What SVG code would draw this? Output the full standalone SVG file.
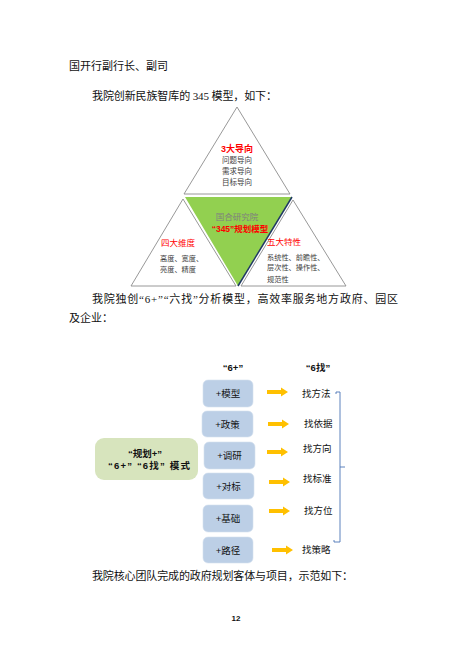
<svg xmlns="http://www.w3.org/2000/svg" width="474" height="668" viewBox="0 0 474 668">
<defs>
<style>
.body{font-family:"Liberation Serif","Noto Sans CJK SC",serif;font-size:11px;fill:#111}
.sm{font-family:"Liberation Sans","Noto Sans CJK SC",sans-serif;fill:#404040}
.red{font-family:"Liberation Sans","Noto Sans CJK SC",sans-serif;fill:#FF0000;font-weight:bold}
.lbl{font-family:"Liberation Sans","Noto Sans CJK SC",sans-serif;font-size:9.5px;fill:#111}
.b{font-weight:bold}
.tri{fill:#fff;stroke:#8C8C8C;stroke-width:0.9}
.box{fill:#BCCFE6;stroke:#D5E0EE;stroke-width:0.6}
.arr{fill:#FFC000}
</style>
<path id="arrow" d="M0,-2 L14,-2 L14,-4.5 L21,0 L14,4.5 L14,2 L0,2 Z"/>
</defs>
<rect width="474" height="668" fill="#fff"/>

<text class="body" x="69" y="70">国开行副行长、副司</text>
<text class="body" x="92" y="100" textLength="185" lengthAdjust="spacing">我院创新民族智库的 345 模型，如下：</text>

<g id="model345">
<g id="top-tri">
<polygon class="tri" points="237,107 184,194 290,194"/>
<text class="red" x="237" y="151.5" font-size="9" text-anchor="middle">3大导向</text>
<text class="sm" x="237" y="162.5" font-size="7.5" text-anchor="middle">问题导向</text>
<text class="sm" x="237" y="173.5" font-size="7.5" text-anchor="middle">需求导向</text>
<text class="sm" x="237" y="184.5" font-size="7.5" text-anchor="middle">目标导向</text>
</g>
<g id="center-tri">
<polygon points="185,197 292,197 238,286" fill="#92D050"/>
<line x1="292" y1="197" x2="238" y2="286" stroke="#1F3864" stroke-width="1.5"/>
<text x="237" y="220" font-size="8.5" text-anchor="middle" font-family="Liberation Sans,Noto Sans CJK SC,sans-serif" fill="#7F7F7F">国合研究院</text>
<text class="red" x="240" y="231.5" font-size="8.5" text-anchor="middle">“345”规划模型</text>
</g>
<g id="left-tri">
<polygon class="tri" points="183,199 131,286 236,286"/>
<text class="red" x="161" y="246" font-size="8.5" style="font-weight:normal">四大维度</text>
<text class="sm" x="160" y="261" font-size="7.2">高度、宽度、</text>
<text class="sm" x="160" y="271.5" font-size="7.2">亮度、精度</text>
</g>
<g id="right-tri">
<polygon class="tri" points="293,200 241,286 346,286"/>
<text class="red" x="267" y="245" font-size="8.5" style="font-weight:normal">五大特性</text>
<text class="sm" x="267" y="259.5" font-size="7.2">系统性、前瞻性、</text>
<text class="sm" x="267" y="270" font-size="7.2">层次性、操作性、</text>
<text class="sm" x="267" y="281.5" font-size="7.2">规范性</text>
</g>
</g>

<text class="body" x="92" y="303" textLength="306" lengthAdjust="spacing">我院独创“6+”“六找”分析模型，高效率服务地方政府、园区</text>
<text class="body" x="69" y="322">及企业：</text>

<g id="six">
<text class="lbl b" x="233" y="370.5" text-anchor="middle">“6+”</text>
<text class="lbl b" x="318" y="370.5" text-anchor="middle">“6找”</text>

<g id="main">
<rect x="95" y="438" width="103" height="42" rx="9" fill="#D7E4BD"/>
<text class="lbl b" x="145" y="457" text-anchor="middle">“规划+”</text>
<text class="lbl b" x="108" y="469" textLength="82" lengthAdjust="spacing">“6+”  “6找” 模式</text>
</g>

<g id="b1"><rect class="box" x="203" y="380" width="50" height="27" rx="5"/><text class="lbl" x="228" y="397" text-anchor="middle">+模型</text></g>
<g id="b2"><rect class="box" x="202" y="411" width="51" height="26" rx="5"/><text class="lbl" x="227.5" y="427.5" text-anchor="middle">+政策</text></g>
<g id="b3"><rect class="box" x="204" y="442" width="51" height="27" rx="5"/><text class="lbl" x="229.5" y="459" text-anchor="middle">+调研</text></g>
<g id="b4"><rect class="box" x="203" y="473" width="51" height="26" rx="5"/><text class="lbl" x="228.5" y="489.5" text-anchor="middle">+对标</text></g>
<g id="b5"><rect class="box" x="203" y="505" width="50" height="27" rx="5"/><text class="lbl" x="228" y="522" text-anchor="middle">+基础</text></g>
<g id="b6"><rect class="box" x="203" y="537" width="50" height="26" rx="5"/><text class="lbl" x="228" y="553.5" text-anchor="middle">+路径</text></g>

<g id="f1"><text class="lbl" x="302" y="397">找方法</text></g>
<g id="f2"><text class="lbl" x="304" y="427">找依据</text></g>
<g id="f3"><text class="lbl" x="303" y="452">找方向</text></g>
<g id="f4"><text class="lbl" x="303" y="482">找标准</text></g>
<g id="f5"><text class="lbl" x="304" y="514">找方位</text></g>
<g id="f6"><text class="lbl" x="302" y="553">找策略</text></g>

<g id="connectors">
<use href="#arrow" class="arr" x="267" y="392"/>
<use href="#arrow" class="arr" x="268" y="424"/>
<use href="#arrow" class="arr" x="267" y="452"/>
<use href="#arrow" class="arr" x="269" y="482"/>
<use href="#arrow" class="arr" x="269" y="511"/>
<use href="#arrow" class="arr" x="272" y="550"/>
<path d="M336,394 L336,392 L340,392 L340,542 L334,542 L334,540 M340,467 L345,467" fill="none" stroke="#4A74B5" stroke-width="0.9"/>
</g>
</g>

<text class="body" x="92" y="580" textLength="261" lengthAdjust="spacing">我院核心团队完成的政府规划客体与项目，示范如下：</text>
<text x="236" y="620.5" font-family="Liberation Sans,sans-serif" font-size="8" font-weight="bold" text-anchor="middle" fill="#111">12</text>
</svg>
